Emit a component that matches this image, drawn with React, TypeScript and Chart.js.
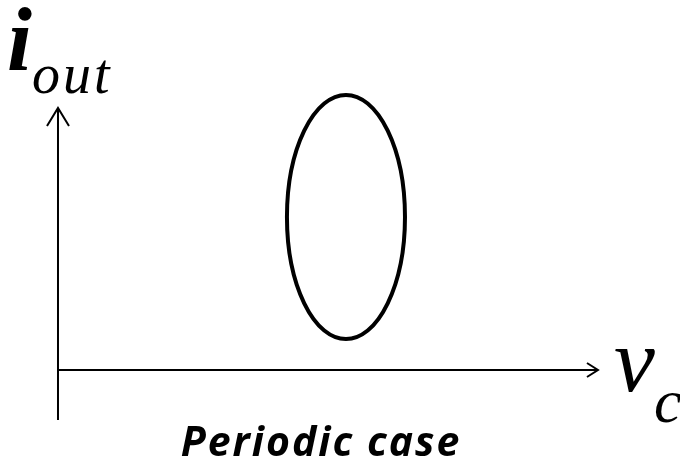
import React, { useEffect, useRef } from "react";
import { Chart, registerables } from "chart.js";

Chart.register(...registerables);

// Phase-plane axes (data units): origin at (0, 0)
const xAxisRange = [0, 10];
const yAxisRange = [-1.91, 10];

// Closed orbit of the periodic solution: centre and semi-axes
const orbitCenter = [5.333, 5.84];
const orbitRadii = [1.093, 4.66];

// Visible window of the plane
const xWindow = [-1.074, 11.519];
const yWindow = [-3.626, 14.122];

const yLabel = { main: "i", sub: "out" };
const xLabel = { main: "v", sub: "c" };
const caption = "Periodic case";

const phasePlanePlugin = {
  id: "phasePlane",
  afterDatasetsDraw(chart: any) {
    const { ctx, scales } = chart;
    const sx = scales.x;
    const sy = scales.y;
    ctx.save();
    ctx.strokeStyle = "#000";
    ctx.fillStyle = "#000";

    // orbit
    const cx = sx.getPixelForValue(orbitCenter[0]);
    const cy = sy.getPixelForValue(orbitCenter[1]);
    const rx = Math.abs(sx.getPixelForValue(orbitCenter[0] + orbitRadii[0]) - cx);
    const ry = Math.abs(sy.getPixelForValue(orbitCenter[1] + orbitRadii[1]) - cy);
    ctx.lineWidth = 4;
    ctx.beginPath();
    ctx.ellipse(cx, cy, rx, ry, 0, 0, Math.PI * 2);
    ctx.stroke();

    // arrow heads
    ctx.lineWidth = 2;
    const tipX = sx.getPixelForValue(xAxisRange[1]);
    const axY = sy.getPixelForValue(0);
    ctx.beginPath();
    ctx.moveTo(tipX - 11, axY - 7);
    ctx.lineTo(tipX, axY);
    ctx.lineTo(tipX - 11, axY + 7);
    ctx.stroke();
    const axX = sx.getPixelForValue(0);
    const tipY = sy.getPixelForValue(yAxisRange[1]);
    ctx.beginPath();
    ctx.moveTo(axX - 11, tipY + 18);
    ctx.lineTo(axX, tipY);
    ctx.lineTo(axX + 11, tipY + 18);
    ctx.stroke();

    // axis labels
    ctx.textAlign = "left";
    ctx.textBaseline = "alphabetic";
    ctx.font = "italic bold 90px 'Liberation Serif'";
    ctx.fillText(yLabel.main, 7, 70);
    ctx.font = "italic 56px 'Liberation Serif'";
    (ctx as any).letterSpacing = "3px";
    ctx.fillText(yLabel.sub, 32, 93);
    (ctx as any).letterSpacing = "0px";
    ctx.font = "italic 92px 'Liberation Serif'";
    ctx.fillText(xLabel.main, 614, 391);
    ctx.font = "italic 62px 'Liberation Serif'";
    ctx.fillText(xLabel.sub, 654, 422);

    // caption
    ctx.textAlign = "center";
    ctx.font = "italic bold 41px 'Open Sans'";
    (ctx as any).letterSpacing = "2px";
    ctx.fillText(caption, 321, 456);
    ctx.restore();
  },
};

export default function App() {
  const ref = useRef<HTMLCanvasElement>(null);
  useEffect(() => {
    document.body.style.margin = "0";
    const canvas = ref.current!;
    const chart = new Chart(canvas, {
      type: "scatter",
      data: {
        datasets: [
          {
            data: [
              { x: xAxisRange[0], y: 0 },
              { x: xAxisRange[1], y: 0 },
            ],
            showLine: true,
            borderColor: "#000",
            borderWidth: 2,
            pointRadius: 0,
          },
          {
            data: [
              { x: 0, y: yAxisRange[0] },
              { x: 0, y: yAxisRange[1] },
            ],
            showLine: true,
            borderColor: "#000",
            borderWidth: 2,
            pointRadius: 0,
          },
        ],
      },
      options: {
        responsive: false,
        animation: false,
        layout: { padding: 0 },
        plugins: { legend: { display: false }, tooltip: { enabled: false } },
        scales: {
          x: { type: "linear", display: false, min: xWindow[0], max: xWindow[1] },
          y: { type: "linear", display: false, min: yWindow[0], max: yWindow[1] },
        },
      },
      plugins: [phasePlanePlugin],
    });
    return () => chart.destroy();
  }, []);
  return (
    <div style={{ width: 680, height: 465, background: "#fff" }}>
      <canvas ref={ref} width={680} height={465} style={{ display: "block" }} />
    </div>
  );
}
